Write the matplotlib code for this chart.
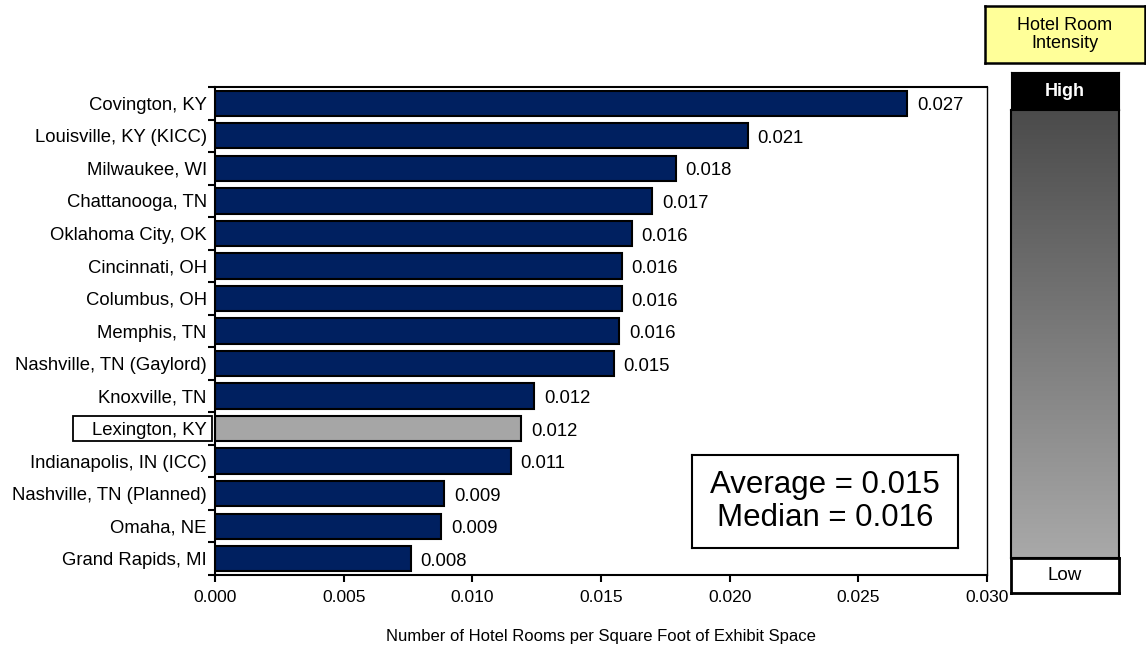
import numpy as np
import matplotlib.pyplot as plt
from matplotlib.patches import Rectangle
from matplotlib.colors import LinearSegmentedColormap

plt.rcParams['font.family'] = ['Liberation Sans', 'DejaVu Sans']

cities = [
    "Covington, KY", "Louisville, KY (KICC)", "Milwaukee, WI", "Chattanooga, TN",
    "Oklahoma City, OK", "Cincinnati, OH", "Columbus, OH", "Memphis, TN",
    "Nashville, TN (Gaylord)", "Knoxville, TN", "Lexington, KY",
    "Indianapolis, IN (ICC)", "Nashville, TN (Planned)", "Omaha, NE", "Grand Rapids, MI",
]
rooms_per_sqft = [
    0.0269, 0.0207, 0.0179, 0.0170, 0.0162, 0.0158, 0.0158, 0.0157,
    0.0155, 0.0124, 0.0119, 0.0115, 0.0089, 0.0088, 0.0076,
]
highlight = "Lexington, KY"
x_ticks = [0.000, 0.005, 0.010, 0.015, 0.020, 0.025, 0.030]
average_value = 0.015
median_value = 0.016

W, H = 1146, 645
fig = plt.figure(figsize=(W / 100, H / 100), dpi=100)


def px_axes(x0, y0, x1, y1):
    """Axes placed by pixel box (top-left origin)."""
    return fig.add_axes([x0 / W, 1 - y1 / H, (x1 - x0) / W, (y1 - y0) / H])


# main bar chart
ax = px_axes(215, 87, 987, 575)

n = len(cities)
ypos = np.arange(n)
colors = ["#A6A6A6" if c == highlight else "#002060" for c in cities]
ax.barh(ypos, rooms_per_sqft, height=0.78, color=colors, edgecolor="black", linewidth=1.5)
ax.set_ylim(n - 0.5, -0.5)
ax.set_xlim(0, 0.030)

for y, v in zip(ypos, rooms_per_sqft):
    ax.text(v + 0.00038, y + 0.08, f"{v:.3f}", va="center", ha="left", fontsize=13.3)

ax.set_yticks(ypos)
ax.set_yticklabels(cities, fontsize=13.3)
ax.tick_params(axis="y", length=0, pad=6)
ax.set_yticks(np.arange(n + 1) - 0.5, minor=True)
ax.tick_params(axis="y", which="minor", length=5, width=1.5, direction="out")

ax.set_xticks(x_ticks)
ax.set_xticklabels([f"{t:.3f}" for t in x_ticks], fontsize=12.5)
ax.tick_params(axis="x", length=5, width=1.5, direction="out", pad=6)
ax.set_xlabel("Number of Hotel Rooms per Square Foot of Exhibit Space", fontsize=12, labelpad=17)

for s in ax.spines.values():
    s.set_linewidth(1.5)
ax.spines["right"].set_linewidth(1.0)

# frame around the highlighted city label, spanning from the label to the axis
hi = cities.index(highlight)
row_top = 87 + (575 - 87) / n * hi
fig.patches.append(Rectangle((73 / W, 1 - (row_top + 28.5) / H), (212 - 73) / W, 25 / H,
                             transform=fig.transFigure, facecolor="none",
                             edgecolor="black", linewidth=1.3))


def clean(a):
    a.set_xticks([]); a.set_yticks([])
    a.set_xlim(0, 1); a.set_ylim(0, 1)
    return a


# summary statistics box
stats_ax = clean(px_axes(692, 455, 958, 548))
stats_ax.set_facecolor("white")
stats_ax.text(0.5, 0.5, f"Average = {average_value:.3f}\nMedian = {median_value:.3f}",
              ha="center", va="center", fontsize=22.5, linespacing=1.1)
for s in stats_ax.spines.values():
    s.set_linewidth(1.5)

# intensity scale panel
title_ax = clean(px_axes(985, 6, 1145, 63))
title_ax.set_facecolor("#FFFF99")
title_ax.text(0.5, 0.5, "Hotel Room\nIntensity", ha="center", va="center", fontsize=13,
              linespacing=1.05)
for s in title_ax.spines.values():
    s.set_linewidth(1.8)

high_ax = clean(px_axes(1011, 72, 1119, 110))
high_ax.set_facecolor("black")
high_ax.text(0.5, 0.5, "High", ha="center", va="center", fontsize=13, fontweight="bold",
             color="white")

grad_ax = clean(px_axes(1011, 110, 1119, 558))
cmap = LinearSegmentedColormap.from_list("intensity", ["#4B4B4B", "#A9A9A9"])
grad_ax.imshow(np.linspace(0, 1, 256).reshape(-1, 1), aspect="auto", cmap=cmap,
               extent=[0, 1, 0, 1], origin="upper")
for s in grad_ax.spines.values():
    s.set_linewidth(1.5)

low_ax = clean(px_axes(1011, 558, 1119, 593))
low_ax.set_facecolor("white")
low_ax.text(0.5, 0.5, "Low", ha="center", va="center", fontsize=13.5)
for s in low_ax.spines.values():
    s.set_linewidth(2)

fig.savefig("out.png", dpi=100)
